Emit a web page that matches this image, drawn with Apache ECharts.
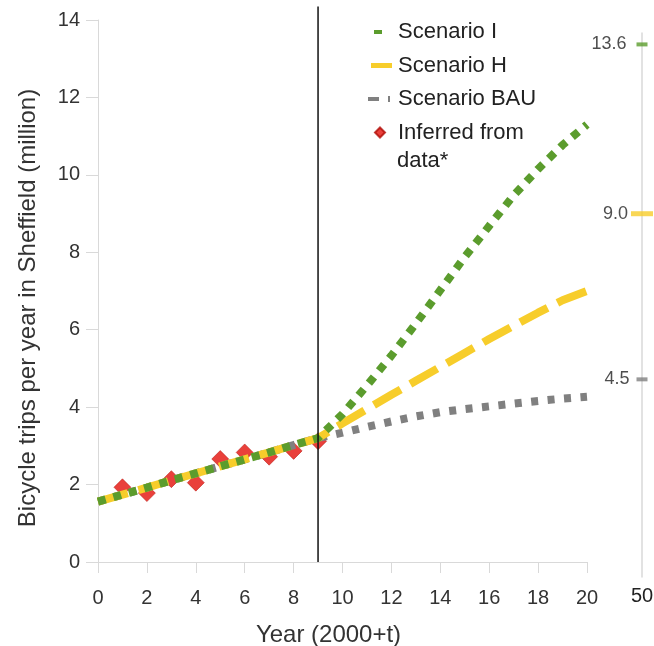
<!DOCTYPE html>
<html>
<head>
<meta charset="utf-8">
<script src="https://cdn.jsdelivr.net/npm/echarts@6/dist/echarts.min.js"></script>
<style>
html,body{margin:0;padding:0;background:#fff;}
#chart{width:654px;height:646px;}
</style>
</head>
<body>
<div id="chart"></div>
<script>
// ---- data ----
var years = [0,1,2,3,4,5,6,7,8,9,10,11,12,13,14,15,16,17,18,19,20];
var scenarioI   = [1.56,1.74,1.92,2.11,2.29,2.47,2.65,2.83,3.02,3.2,3.82,4.56,5.33,6.16,7.02,7.88,8.68,9.47,10.15,10.77,11.3];
var scenarioH   = [1.56,1.74,1.92,2.11,2.29,2.47,2.65,2.83,3.02,3.2,3.58,3.95,4.32,4.68,5.04,5.4,5.76,6.1,6.44,6.76,7.0];
var scenarioBAU = [1.56,1.74,1.92,2.11,2.29,2.47,2.65,2.83,3.02,3.2,3.34,3.49,3.63,3.76,3.87,3.95,4.02,4.09,4.16,4.22,4.27];
var inferredYears = [1,2,3,4,5,6,7,8,9];
var inferredValues = [1.93,1.78,2.14,2.05,2.66,2.83,2.72,2.87,3.12];
var markerYear = 9;
var year50Label = ['50'];
var year50Values = [13.6, 9.0, 4.5];
var xTicks = {min:0, max:20, interval:2};
var yTicks = {min:0, max:14, interval:2};

var GREEN = '#5b9c2d', YELLOW = '#f7cd2b', GREY = '#808080', RED = '#e4100a';
var FONT = 'Liberation Sans';

function pairs(xs, ys){ return xs.map(function(x,i){ return [x, ys[i]]; }); }

var chart = echarts.init(document.getElementById('chart'), null, {renderer:'canvas'});
var axisGrey = '#d9d9d9';
var option = {
  animation: false,
  backgroundColor: '#ffffff',
  textStyle: {fontFamily: FONT},
  grid: [
    {left: 98, right: 67, top: 20, bottom: 84, containLabel: false, outerBoundsMode: 'none'},
    {left: 641.5, width: 1, top: 33, bottom: 69, containLabel: false, outerBoundsMode: 'none'}
  ],
  xAxis: [
    {
      type: 'value', gridIndex: 0, min: xTicks.min, max: xTicks.max, interval: xTicks.interval,
      name: 'Year (2000+t)', nameLocation: 'middle', nameGap: 61,
      nameTextStyle: {fontSize: 24, color: '#333', fontFamily: FONT, padding: [0, 28, 0, 0]},
      axisLine: {show: true, lineStyle: {color: axisGrey, width: 1}},
      axisTick: {show: true, length: 11, lineStyle: {color: axisGrey}},
      splitLine: {show: false},
      axisLabel: {fontSize: 20, color: '#333', margin: 26, fontFamily: FONT}
    },
    {
      type: 'category', gridIndex: 1, data: year50Label,
      axisLine: {show: false}, axisTick: {show: false},
      axisLabel: {fontSize: 20, color: '#222', margin: 9, fontFamily: FONT}
    }
  ],
  yAxis: [
    {
      type: 'value', gridIndex: 0, min: yTicks.min, max: yTicks.max, interval: yTicks.interval,
      name: 'Bicycle trips per year in Sheffield (million)', nameLocation: 'middle', nameGap: 58,
      nameTextStyle: {fontSize: 24, color: '#333', fontFamily: FONT, padding: [0, 34, 0, 0]},
      axisLine: {show: true, lineStyle: {color: axisGrey, width: 1}},
      axisTick: {show: true, length: 12, lineStyle: {color: axisGrey}},
      splitLine: {show: false},
      axisLabel: {fontSize: 20, color: '#333', margin: 18, fontFamily: FONT}
    },
    {
      type: 'value', gridIndex: 1, min: -0.87, max: 13.91,
      axisLine: {show: true, lineStyle: {color: axisGrey, width: 1.5}},
      axisTick: {show: false}, axisLabel: {show: false}, splitLine: {show: false}
    }
  ],
  legend: {
    orient: 'vertical', left: 366, top: 21, padding: 0,
    itemWidth: 26, itemHeight: 12, itemGap: 11.5,
    textStyle: {fontSize: 22, lineHeight: 22, color: '#222', fontFamily: FONT},
    formatter: function(n){ return n === 'Inferred from data*' ? 'Inferred from' : n; },
    data: [
      {name: 'Scenario I', icon: 'path://M0,0M26,12M7,4h8v4h-8z'},
      {name: 'Scenario H', icon: 'path://M0,0M26,12M4,3.5h21v5h-21z'},
      {name: 'Scenario BAU', icon: 'path://M0,0M26,12M1,4h11v4h-11zM21,3h2v6h-2z'},
      {name: 'Inferred from data*', icon: 'path://M0,0M26,12M13,1L18,6L13,11L8,6z'}
    ]
  },
  graphic: [
    {type: 'text', left: 397, top: 150, style: {text: 'data*', fontSize: 22, fill: '#222', fontFamily: FONT}}
  ],
  series: [
    {
      name: 'Inferred from data*', type: 'scatter', xAxisIndex: 0, yAxisIndex: 0,
      symbol: 'diamond', symbolSize: 17, z: 1,
      itemStyle: {color: RED, borderColor: '#b00c06', borderWidth: 0.6},
      data: pairs(inferredYears, inferredValues)
    },
    {
      name: 'Scenario BAU', type: 'line', xAxisIndex: 0, yAxisIndex: 0, z: 2,
      showSymbol: false, symbol: 'none', color: GREY,
      lineStyle: {color: GREY, width: 8, type: [7, 9.5], cap: 'butt'},
      data: pairs(years, scenarioBAU)
    },
    {
      name: 'Scenario H', type: 'line', xAxisIndex: 0, yAxisIndex: 0, z: 3,
      showSymbol: false, symbol: 'none', color: YELLOW,
      lineStyle: {color: YELLOW, width: 8, type: [31, 11], cap: 'butt'},
      data: pairs(years, scenarioH)
    },
    {
      name: 'Scenario I', type: 'line', xAxisIndex: 0, yAxisIndex: 0, z: 4,
      showSymbol: false, symbol: 'none', color: GREEN,
      lineStyle: {color: GREEN, width: 8, type: [8, 8], cap: 'butt'},
      data: pairs(years, scenarioI)
    },
    {
      name: 'divider', type: 'line', xAxisIndex: 0, yAxisIndex: 0, z: 5,
      showSymbol: false, symbol: 'none', clip: false, silent: true,
      lineStyle: {color: '#111', width: 1.5},
      data: [[markerYear, 0], [markerYear, 14.35]]
    },
    {
      name: 'year50', type: 'scatter', xAxisIndex: 1, yAxisIndex: 1, z: 5,
      symbol: 'rect',
      label: {show: true, position: 'left', fontSize: 18, color: '#222', fontFamily: FONT,
              formatter: function(p){ return p.value[1].toFixed(1); }},
      data: [
        {value: [year50Label[0], year50Values[0]], symbolSize: [11, 4], itemStyle: {color: GREEN}, label: {distance: 10}},
        {value: [year50Label[0], year50Values[1]], symbolSize: [22, 5], itemStyle: {color: YELLOW}, label: {distance: 3}},
        {value: [year50Label[0], year50Values[2]], symbolSize: [11, 4], itemStyle: {color: GREY}, label: {distance: 7}}
      ]
    }
  ]
};
chart.setOption(option);
</script>
</body>
</html>
